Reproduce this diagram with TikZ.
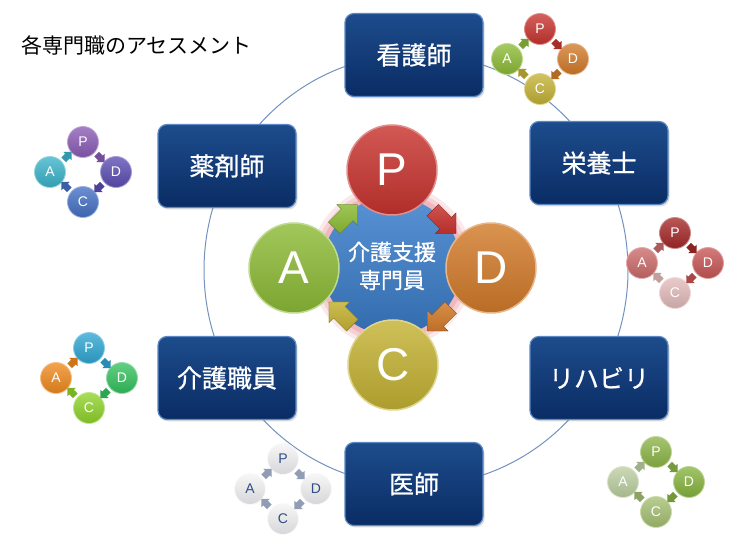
\documentclass[tikz,border=0pt]{standalone}
\usepackage{fontspec}
\setmainfont{Liberation Sans}
\newfontfamily\jp{Noto Sans CJK JP}
\newfontfamily\jpb[FakeBold=0.8]{Noto Sans CJK JP}
\usetikzlibrary{shapes.arrows,shadows,calc}
\definecolor{cP}{HTML}{C8342F}
\definecolor{cD}{HTML}{D27B2A}
\definecolor{cC}{HTML}{C4B234}
\definecolor{cA}{HTML}{8DBB37}
\definecolor{coreblue}{HTML}{3B7FCC}
\definecolor{glowpink}{HTML}{E88A95}
\definecolor{ringc}{HTML}{7592BE}
\definecolor{boxtop}{HTML}{1D4C8C}
\definecolor{boxbot}{HTML}{0A2C64}
\definecolor{boxedge}{HTML}{5C88C4}
% cluster 2 (purple/blue)
\definecolor{bP}{HTML}{8A5BB5}
\definecolor{bD}{HTML}{5B4DB3}
\definecolor{bC}{HTML}{4470C4}
\definecolor{bA}{HTML}{3BB3C9}
% cluster 3 (reds)
\definecolor{rP}{HTML}{A52828}
\definecolor{rD}{HTML}{C85555}
\definecolor{rC}{HTML}{E3BBBB}
\definecolor{rA}{HTML}{CC6A6A}
% cluster 4 (bright)
\definecolor{gP}{HTML}{2FA6D2}
\definecolor{gD}{HTML}{35C25E}
\definecolor{gC}{HTML}{8FD32B}
\definecolor{gA}{HTML}{F08A1E}
% cluster 5 (white)
\definecolor{wB}{HTML}{F4F4F6}
\definecolor{wT}{HTML}{2F4E86}
\definecolor{wArr}{HTML}{5C6E90}
% cluster 6 (olive greens)
\definecolor{oP}{HTML}{8CB547}
\definecolor{oD}{HTML}{86B43F}
\definecolor{oC}{HTML}{A5C072}
\definecolor{oA}{HTML}{BCCFA0}
\tikzset{
  sball/.style={circle, inner sep=0pt, minimum size=31pt, top color=#1!78!white,
    bottom color=#1!88!black, draw=#1!55!white, line width=0.8pt,
    font=\fontsize{14}{14}\selectfont},
  bball/.style={circle, inner sep=0pt, minimum size=90pt, top color=#1!82!white,
    bottom color=#1!88!black, draw=#1!55!white, line width=1.5pt, text=white,
    font=\fontsize{46}{46}\selectfont},
  sarrow/.style={single arrow, inner sep=3pt, minimum height=11pt,
    single arrow head extend=2.6pt, draw=none},
  barrow/.style={single arrow, inner sep=8pt, minimum height=33pt,
    single arrow head extend=6.5pt, draw=#1!60!black, line width=0.3pt,
    top color=#1!85!white, bottom color=#1!90!black},
  job/.style={rounded corners=9pt, minimum width=138pt, minimum height=83pt,
    top color=boxtop, bottom color=boxbot, draw=boxedge, line width=1.2pt,
    text=white, font=\jpb\fontsize{25}{25}\selectfont,
    drop shadow={opacity=0.25, shadow xshift=1.5pt, shadow yshift=-2pt}},
}
\newcommand\pdcaset[9]{%
  \node[sball=#4, text=#8] (#1P) at (#2,#3-30) {P};
  \node[sball=#5, text=#8] (#1D) at (#2+33,#3) {D};
  \node[sball=#6, text=#8] (#1C) at (#2,#3+30) {C};
  \node[sball=#7, text=#8] (#1A) at (#2-33,#3) {A};
  \node[sarrow, fill=#4!#9, rotate=-45] (#1pd) at ($(#1P)!0.5!(#1D)$) {};
  \node[sarrow, fill=#5!#9, rotate=-135] (#1dc) at ($(#1D)!0.5!(#1C)$) {};
  \node[sarrow, fill=#6!#9, rotate=135] (#1ca) at ($(#1C)!0.5!(#1A)$) {};
  \node[sarrow, fill=#7!#9, rotate=45] (#1ap) at ($(#1A)!0.5!(#1P)$) {};
}
\begin{document}
\begin{tikzpicture}[x=1pt,y=-1pt]
\fill[white] (0,0) rectangle (740,545);
\useasboundingbox (0,0) rectangle (740,545);

% big ring
\draw[ringc, line width=1pt] (416,270) ellipse [x radius=212, y radius=216];

% title
\node[anchor=west, font=\jp\fontsize{21}{21}\selectfont, inner sep=0pt] (title) at (21,45) {各専門職のアセスメント};

% job boxes
\node[job] (kango) at (414,55) {看護師};
\node[job] (eiyo) at (599,163) {栄養士};
\node[job] (riha) at (599,378) {リハビリ};
\node[job] (ishi) at (414,484) {医師};
\node[job] (kaigo) at (227,378) {介護職員};
\node[job] (yaku) at (227,166) {薬剤師};

% centre
\coordinate (mid) at (392,266);
\fill[glowpink, opacity=0.18] (mid) circle (82);
\fill[glowpink, opacity=0.25] (mid) circle (78);
\fill[glowpink, opacity=0.35] (mid) circle (74);
\node[circle, minimum size=138pt, inner sep=0pt, top color=coreblue!85!white,
  bottom color=coreblue!85!black, text=white, align=center,
  font=\jpb\fontsize{22}{28}\selectfont] (core) at (mid) {介護支援\\専門員};
\node[bball=cP] (bigP) at (392,170) {P};
\node[bball=cD] (bigD) at (491,268) {D};
\node[bball=cC] (bigC) at (393,365) {C};
\node[bball=cA] (bigA) at (294,268) {A};
\node[barrow=cP, rotate=-45] (bpd) at ($(bigP)!0.5!(bigD)$) {};
\node[barrow=cD, rotate=-135] (bdc) at ($(bigD)!0.5!(bigC)$) {};
\node[barrow=cC, rotate=135] (bca) at ($(bigC)!0.5!(bigA)$) {};
\node[barrow=cA, rotate=45] (bap) at ($(bigA)!0.5!(bigP)$) {};

% small PDCA clusters
\pdcaset{t}{540}{59}{cP}{cD}{cC}{cA}{white}{85!black}
\pdcaset{y}{83}{172}{bP}{bD}{bC}{bA}{white}{85!black}
\pdcaset{e}{675}{263}{rP}{rD}{rC}{rA}{white}{85!black}
\pdcaset{k}{89}{378}{gP}{gD}{gC}{gA}{white}{85!black}
\pdcaset{i}{283}{489}{wB}{wB}{wB}{wB}{wT}{35!wArr}
\pdcaset{r}{656}{482}{oP}{oD}{oC}{oA}{white}{85!black}
\end{tikzpicture}
\end{document}
